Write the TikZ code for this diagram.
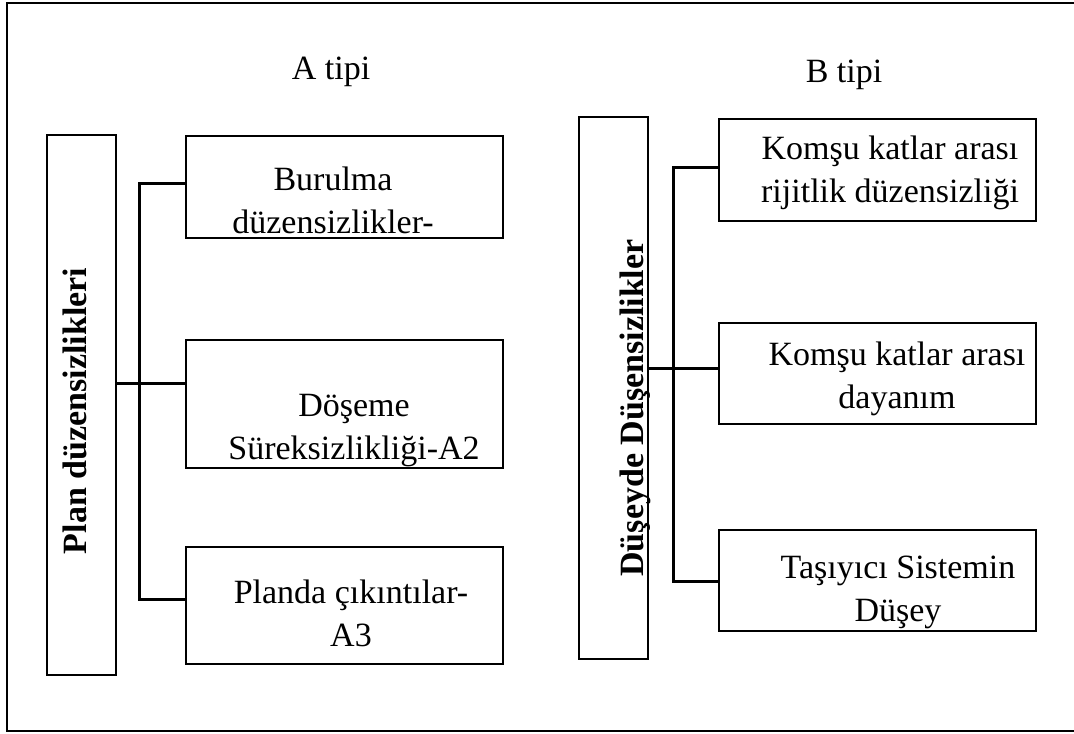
\documentclass[tikz,border=0pt]{standalone}
\usepackage{fontspec}
\setmainfont{Liberation Serif}
\usetikzlibrary{positioning}

\begin{document}
\begin{tikzpicture}[x=0.5pt, y=-0.5pt, line width=1pt,
		Kutu/.style={
			draw,
			inner sep=0pt,
			minimum width=158.5pt
		},
		Ana/.style={
			draw,
			inner sep=0pt,
			minimum width=34.5pt
		},
		Yazi/.style={
			font=\fontsize{17}{21.5}\selectfont,
			align=center,
			inner sep=0pt
		},
		Baslik/.style={
			font=\fontsize{17}{21.5}\selectfont\bfseries,
			rotate=90,
			anchor=base,
			inner sep=0pt
		},
		Hat/.style={line width=1.5pt}]
		\useasboundingbox (0,0) rectangle (1074,733);
		\draw (7,3) rectangle (1100,731);
		% A tipi
		\node[Yazi, anchor=base] (Atipi) at (331,80) {A tipi};
		\node[Ana, minimum height=270pt] (Plan) at (81.5,405) {};
		\node[Baslik] (PlanYazi) at (86,411) {Plan düzensizlikleri};
		\node[Kutu, minimum height=51pt] (A1) at (344.5,187) {};
		\node[Kutu, minimum height=64pt] (A2) at (344.5,404) {};
		\node[Kutu, minimum height=58.5pt] (A3) at (344.5,605.5) {};
		\node[Yazi] (A1yazi) at (333,200) {Burulma\\düzensizlikler-};
		\node[Yazi] (A2yazi) at (354,430.5) {Döşeme\\Süreksizlikliği-A2};
		\node[Yazi] (A3yazi) at (351,613.5) {Planda çıkıntılar-\\A3};
		\coordinate (Aust) at (139.5,183);
		\coordinate (Aorta) at (139.5,383);
		\coordinate (Aalt) at (139.5,599);
		\draw[Hat] (A1.west |- Aust) -- (Aust) -- (Aalt) -- (A3.west |- Aalt);
		\draw[Hat] (Plan.east |- Aorta) -- (A2.west |- Aorta);
		% B tipi
		\node[Yazi, anchor=base] (Btipi) at (844,83) {B tipi};
		\node[Ana, minimum height=271pt] (Dusey) at (613.5,388) {};
		\node[Baslik] (DuseyYazi) at (643.5,408) {Düşeyde Düşensizlikler};
		\node[Kutu, minimum height=51pt] (B1) at (877,170) {};
		\node[Kutu, minimum height=50.5pt] (B2) at (877,373.5) {};
		\node[Kutu, minimum height=50.5pt] (B3) at (877,580.5) {};
		\node[Yazi] (B1yazi) at (890,172.5) {Komşu katlar arası\\rijitlik düzensizliği};
		\node[Yazi] (B2yazi) at (897,378.5) {Komşu katlar arası\\dayanım};
		\node[Yazi] (B3yazi) at (898,592.5) {Taşıyıcı Sistemin\\Düşey};
		\coordinate (Bust) at (673,167);
		\coordinate (Borta) at (673,368);
		\coordinate (Balt) at (673,581);
		\draw[Hat] (B1.west |- Bust) -- (Bust) -- (Balt) -- (B3.west |- Balt);
		\draw[Hat] (Dusey.east |- Borta) -- (B2.west |- Borta);
	\end{tikzpicture}
\end{document}
